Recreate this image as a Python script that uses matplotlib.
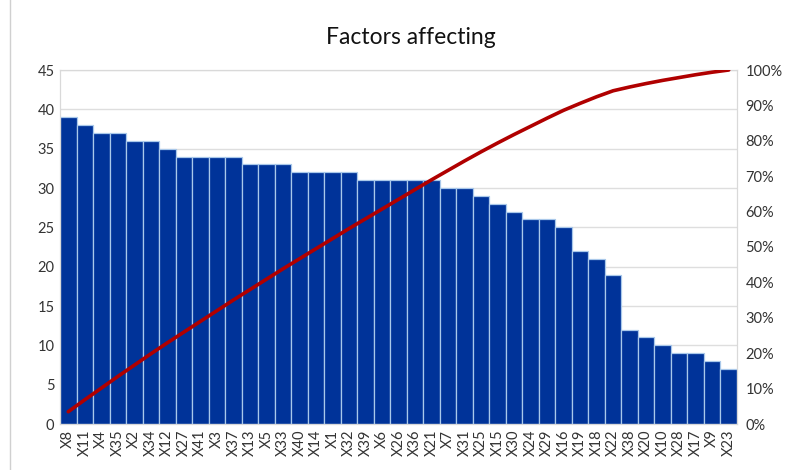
import matplotlib
matplotlib.use("Agg")
from matplotlib import pyplot as plt
from matplotlib.ticker import PercentFormatter
import numpy as np

plt.rcParams['font.family'] = ['Lato', 'DejaVu Sans']

# Factor names and counts, sorted descending (Pareto order)
factors = ["X8", "X11", "X4", "X35", "X2", "X34", "X12", "X27", "X41", "X3",
           "X37", "X13", "X5", "X33", "X40", "X14", "X1", "X32", "X39", "X6",
           "X26", "X36", "X21", "X7", "X31", "X25", "X15", "X30", "X24", "X29",
           "X16", "X19", "X18", "X22", "X38", "X20", "X10", "X28", "X17", "X9",
           "X23"]
counts = [39, 38, 37, 37, 36, 36, 35, 34, 34, 34,
          34, 33, 33, 33, 32, 32, 32, 32, 31, 31,
          31, 31, 31, 30, 30, 29, 28, 27, 26, 26,
          25, 22, 21, 19, 12, 11, 10, 9, 9, 8,
          7]

cum_share = np.cumsum(counts) / np.sum(counts)
x = np.arange(len(factors))

fig = plt.figure(figsize=(8.09, 4.70), dpi=100)
ax = fig.add_axes([60 / 809, 1 - 424 / 470, 677 / 809, 354 / 470])

ax.bar(x, counts, width=1.0, color='#003399', edgecolor='#a9c8ea', linewidth=0.9, zorder=2)
ax.set_xlim(-0.5, len(factors) - 0.5)
ax.set_ylim(0, 45)
ax.set_yticks(np.arange(0, 46, 5))
ax.set_xticks(x)
ax.set_xticklabels(factors, rotation=90, fontsize=10, color='#333333')
ax.grid(axis='y', color='#dedede', linewidth=1, zorder=0)
ax.tick_params(axis='both', length=0, labelsize=10.5, colors='#333333', pad=4)
for s in ax.spines.values():
    s.set_color('#d9d9d9')

ax2 = ax.twinx()
ax2.plot(x, cum_share, color='#b00000', linewidth=2.6, solid_capstyle='round', zorder=3)
ax2.set_ylim(0, 1)
ax2.set_yticks(np.arange(0, 1.01, 0.1))
ax2.yaxis.set_major_formatter(PercentFormatter(1.0, decimals=0))
ax2.tick_params(axis='y', length=0, labelsize=10.5, colors='#333333', pad=6)
for s in ax2.spines.values():
    s.set_color('#d9d9d9')

fig.text(0.508, 1 - 38 / 470, "Factors affecting", ha='center', va='center',
         fontsize=16.5, color='#111111')

# chart frame on the left
fig.add_artist(plt.Line2D([10 / 809, 10 / 809], [0, 1], color='#d0d0d0', linewidth=1))

fig.savefig("out.png", dpi=100)
